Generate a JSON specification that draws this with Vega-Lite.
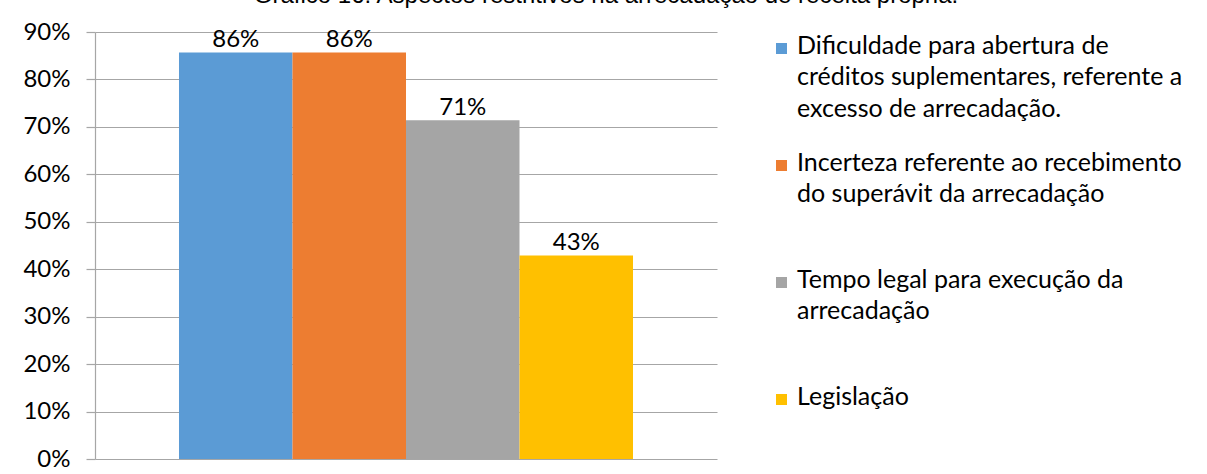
{
  "$schema": "https://vega.github.io/schema/vega-lite/v6.json",
  "width": 622,
  "height": 427,
  "autosize": {"type": "none"},
  "padding": {"left": 95, "top": 32, "right": 490, "bottom": 15},
  "background": "white",
  "title": {
    "text": "Gráfico 16: Aspectos restritivos na arrecadação de receita própria.",
    "font": "Liberation Sans",
    "fontSize": 24,
    "fontWeight": "normal",
    "color": "black",
    "anchor": "middle",
    "frame": "group",
    "baseline": "alphabetic",
    "offset": 12,
    "dy": 19,
    "dx": 200
  },
  "config": {
    "view": {"stroke": null},
    "font": "Lato"
  },
  "data": {
    "values": [
      {"serie": "Dificuldade para abertura de créditos suplementares, referente a excesso de arrecadação.", "valor": 0.857},
      {"serie": "Incerteza referente ao recebimento do superávit da arrecadação", "valor": 0.857},
      {"serie": "Tempo legal para execução da arrecadação", "valor": 0.714},
      {"serie": "Legislação", "valor": 0.429}
    ]
  },
  "encoding": {
    "x": {
      "field": "serie",
      "type": "nominal",
      "sort": null,
      "axis": null,
      "scale": {"paddingInner": 0, "paddingOuter": 0.74}
    },
    "y": {
      "field": "valor",
      "type": "quantitative",
      "scale": {"domain": [0, 0.9], "nice": false},
      "axis": {
        "title": null,
        "values": [0, 0.1, 0.2, 0.3, 0.4, 0.5, 0.6, 0.7, 0.8, 0.9],
        "format": ".0%",
        "grid": true,
        "gridColor": "#a6a6a6",
        "gridWidth": 1.2,
        "domainColor": "#a6a6a6",
        "domainWidth": 1.2,
        "tickColor": "#a6a6a6",
        "tickWidth": 1.2,
        "tickSize": 9,
        "labelPadding": 16,
        "labelFont": "Lato",
        "labelFontSize": 24,
        "labelColor": "black"
      }
    }
  },
  "layer": [
    {
      "mark": {"type": "bar"},
      "encoding": {
        "color": {
          "field": "serie",
          "type": "nominal",
          "sort": null,
          "scale": {"range": ["#5B9BD5", "#ED7D31", "#A5A5A5", "#FFC000"]},
          "legend": {
            "title": null,
            "orient": "right",
            "offset": 48,
            "padding": 4,
            "symbolType": "square",
            "symbolSize": 121,
            "symbolStrokeWidth": 0,
            "symbolOpacity": 1,
            "labelFont": "Lato",
            "labelFontSize": 25,
            "labelColor": "black",
            "labelLimit": 600,
            "labelOffset": 3,
            "labelBaseline": "top",
            "gridAlign": "all",
            "rowPadding": 28,
            "labelExpr": "datum.value == 'Legislação' ? 'Legislação' : datum.value == 'Tempo legal para execução da arrecadação' ? ['Tempo legal para execução da', 'arrecadação'] : datum.value == 'Incerteza referente ao recebimento do superávit da arrecadação' ? ['Incerteza referente ao recebimento', 'do superávit da arrecadação'] : ['Dificuldade para abertura de', 'créditos suplementares, referente a', 'excesso de arrecadação.']",
            "encode": {"labels": {"update": {"dy": {"value": -15}, "lineHeight": {"value": 31.5}}}}
          }
        }
      }
    },
    {
      "mark": {"type": "text", "baseline": "alphabetic", "dy": -5, "fontSize": 24, "font": "Lato", "color": "black"},
      "encoding": {
        "text": {"field": "valor", "type": "quantitative", "format": ".0%"}
      }
    }
  ]
}
